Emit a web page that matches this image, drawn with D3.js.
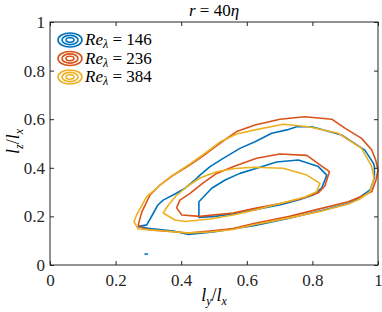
<!DOCTYPE html>
<html>
<head>
<meta charset="utf-8">
<script src="https://cdn.jsdelivr.net/npm/d3@7"></script>
<style>
  html, body { margin: 0; padding: 0; background: #fff; }
  svg { display: block; }
</style>
</head>
<body>
<div id="chart"></div>
<script>
// contour levels, in (ly/lx, lz/lx) units
const reLabels = ["146", "236", "384"];
const reColors = ["#0072BD", "#D95319", "#EDB120"];

const re146Outer = [[0.269,0.158],[0.295,0.165],[0.315,0.213],[0.329,0.247],[0.345,0.267],[0.381,0.292],[0.412,0.316],[0.442,0.350],[0.457,0.370],[0.488,0.405],[0.528,0.439],[0.579,0.480],[0.625,0.507],[0.676,0.542],[0.722,0.556],[0.752,0.569],[0.798,0.569],[0.889,0.535],[0.960,0.473],[0.986,0.418],[0.989,0.407],[0.989,0.358],[0.976,0.309],[0.935,0.270],[0.909,0.253],[0.829,0.224],[0.726,0.191],[0.625,0.163],[0.498,0.136],[0.422,0.126],[0.376,0.140],[0.299,0.151]];
const re146Inner = [[0.454,0.196],[0.454,0.260],[0.493,0.316],[0.534,0.350],[0.579,0.377],[0.630,0.398],[0.691,0.424],[0.757,0.432],[0.818,0.405],[0.844,0.370],[0.828,0.316],[0.802,0.288],[0.762,0.270],[0.706,0.249],[0.625,0.228],[0.558,0.210],[0.503,0.200]];
const re146Speck = [[0.288,0.045],[0.299,0.045]];

const re236Outer = [[0.269,0.165],[0.280,0.219],[0.305,0.288],[0.335,0.329],[0.372,0.366],[0.427,0.412],[0.478,0.460],[0.518,0.501],[0.569,0.549],[0.625,0.576],[0.701,0.600],[0.777,0.610],[0.859,0.600],[0.899,0.563],[0.950,0.521],[0.981,0.473],[0.993,0.432],[1.000,0.391],[0.994,0.350],[0.981,0.302],[0.960,0.288],[0.909,0.260],[0.828,0.233],[0.727,0.199],[0.625,0.172],[0.558,0.150],[0.488,0.140],[0.421,0.132],[0.366,0.138],[0.305,0.144],[0.284,0.151]];
const re236Inner = [[0.386,0.235],[0.396,0.267],[0.427,0.295],[0.466,0.337],[0.508,0.377],[0.564,0.407],[0.630,0.439],[0.701,0.457],[0.783,0.451],[0.823,0.412],[0.852,0.384],[0.838,0.325],[0.817,0.296],[0.767,0.274],[0.706,0.254],[0.625,0.233],[0.558,0.214],[0.457,0.200],[0.402,0.206]];

const re384Outer = [[0.256,0.178],[0.264,0.206],[0.295,0.281],[0.329,0.321],[0.366,0.362],[0.427,0.416],[0.478,0.465],[0.518,0.506],[0.569,0.539],[0.625,0.556],[0.711,0.579],[0.788,0.569],[0.879,0.542],[0.950,0.480],[0.981,0.405],[0.988,0.358],[0.976,0.302],[0.945,0.272],[0.909,0.251],[0.829,0.222],[0.726,0.193],[0.625,0.167],[0.558,0.146],[0.488,0.136],[0.421,0.132],[0.351,0.140],[0.290,0.146],[0.269,0.148]];
const re384Inner = [[0.345,0.214],[0.361,0.247],[0.384,0.284],[0.417,0.322],[0.457,0.358],[0.508,0.384],[0.564,0.397],[0.620,0.402],[0.711,0.398],[0.783,0.370],[0.823,0.336],[0.813,0.302],[0.777,0.280],[0.732,0.263],[0.671,0.243],[0.625,0.226],[0.558,0.206],[0.488,0.189],[0.412,0.179],[0.381,0.185]];

const xTicks = [0, 0.2, 0.4, 0.6, 0.8, 1];
const yTicks = [0, 0.2, 0.4, 0.6, 0.8, 1];

const contours = [
    { series: 0, pts: re146Outer, closed: true },
    { series: 0, pts: re146Inner, closed: true },
    { series: 0, pts: re146Speck, closed: false },
    { series: 1, pts: re236Outer, closed: true },
    { series: 1, pts: re236Inner, closed: true },
    { series: 2, pts: re384Outer, closed: true },
    { series: 2, pts: re384Inner, closed: true }
];

const W = 382, H = 312;
const margin = { top: 22, right: 4, bottom: 47, left: 50 };
const width = W - margin.left - margin.right;
const height = H - margin.top - margin.bottom;
const serif = "Liberation Serif";
const axisColor = "#262626";

const svg = d3.select("#chart").append("svg")
    .attr("width", W)
    .attr("height", H)
    .attr("font-family", serif);

const g = svg.append("g")
    .attr("transform", `translate(${margin.left},${margin.top})`);

const x = d3.scaleLinear().domain([0, 1]).range([0, width]);
const y = d3.scaleLinear().domain([0, 1]).range([height, 0]);

// contour lines
const lineClosed = d3.line().x(d => x(d[0])).y(d => y(d[1])).curve(d3.curveLinearClosed);
const lineOpen = d3.line().x(d => x(d[0])).y(d => y(d[1]));

g.append("g").attr("class", "contours")
    .selectAll("path")
    .data(contours)
    .enter()
    .append("path")
    .attr("d", d => d.closed ? lineClosed(d.pts) : lineOpen(d.pts))
    .attr("fill", "none")
    .attr("stroke", d => reColors[d.series])
    .attr("stroke-width", 1.6)
    .attr("stroke-linejoin", "round");

// axes, ticks pointing inward on all four sides
const tickLen = 4;
const styleAxis = sel => {
    sel.select(".domain").remove();
    sel.attr("font-family", serif).attr("font-size", 17);
    sel.selectAll(".tick line").attr("stroke", axisColor);
    sel.selectAll(".tick text").attr("fill", "#262626").attr("font-family", serif).attr("font-size", 17);
};

g.append("g")
    .attr("transform", `translate(0,${height})`)
    .call(d3.axisBottom(x).tickValues(xTicks).tickSize(-tickLen).tickPadding(9).tickFormat(d3.format("")))
    .call(styleAxis);

g.append("g")
    .call(d3.axisLeft(y).tickValues(yTicks).tickSize(-tickLen).tickPadding(5).tickFormat(d3.format("")))
    .call(styleAxis);

g.append("g")
    .call(d3.axisTop(x).tickValues(xTicks).tickSize(-tickLen).tickFormat(""))
    .call(styleAxis);

g.append("g")
    .attr("transform", `translate(${width},0)`)
    .call(d3.axisRight(y).tickValues(yTicks).tickSize(-tickLen).tickFormat(""))
    .call(styleAxis);

g.append("rect")
    .attr("width", width)
    .attr("height", height)
    .attr("fill", "none")
    .attr("stroke", axisColor)
    .attr("stroke-width", 1);

// title
const title = svg.append("text")
    .attr("x", margin.left + width / 2)
    .attr("y", 16)
    .attr("text-anchor", "middle")
    .attr("font-family", serif)
    .attr("font-size", 17)
    .attr("fill", "#000");
title.append("tspan").attr("font-style", "italic").text("r");
title.append("tspan").text(" = 40");
title.append("tspan").attr("font-style", "italic").text("η");

// axis labels
const fracLabel = (sel, a, b) => {
    sel.append("tspan").attr("font-style", "italic").text("l");
    sel.append("tspan").attr("font-style", "italic").attr("font-size", 12).attr("dy", 4).text(a);
    sel.append("tspan").attr("dy", -4).text("/");
    sel.append("tspan").attr("font-style", "italic").text("l");
    sel.append("tspan").attr("font-style", "italic").attr("font-size", 12).attr("dy", 4).text(b);
};

svg.append("text")
    .attr("x", margin.left + width / 2)
    .attr("y", 301)
    .attr("text-anchor", "middle")
    .attr("font-family", serif)
    .attr("font-size", 18)
    .call(fracLabel, "y", "x");

svg.append("text")
    .attr("transform", `translate(19,${margin.top + height / 2 - 2}) rotate(-90)`)
    .attr("text-anchor", "middle")
    .attr("font-family", serif)
    .attr("font-size", 18)
    .call(fracLabel, "z", "x");

// legend with contour-style icons
const legend = svg.append("g").attr("class", "legend")
    .attr("transform", `translate(${margin.left + 20},${margin.top + 18})`);
const rowH = 18.5;

const items = legend.selectAll("g")
    .data(reLabels)
    .enter()
    .append("g")
    .attr("transform", (d, i) => `translate(0,${i * rowH})`);

[[12, 7], [8, 4.6], [4, 2.2]].forEach(([rx, ry]) => {
    items.append("ellipse")
        .attr("rx", rx)
        .attr("ry", ry)
        .attr("fill", "none")
        .attr("stroke", (d, i) => reColors[i])
        .attr("stroke-width", 1.6);
});

const lt = items.append("text")
    .attr("x", 15)
    .attr("y", 5)
    .attr("font-family", serif)
    .attr("font-size", 17);
lt.append("tspan").attr("font-style", "italic").text("Re");
lt.append("tspan").attr("font-style", "italic").attr("font-size", 12).attr("dy", 3).text("λ");
lt.append("tspan").attr("dy", -3).text(d => " = " + d);
</script>
</body>
</html>
